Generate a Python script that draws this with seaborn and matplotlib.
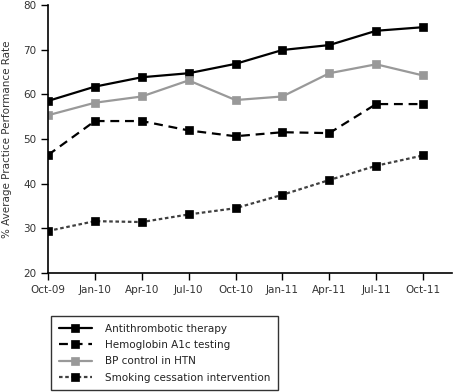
import pandas as pd
import numpy as np
import matplotlib
matplotlib.use("Agg")
import matplotlib.pyplot as plt
import seaborn as sns

# Data
quarters = ["Oct-09", "Jan-10", "Apr-10", "Jul-10", "Oct-10",
            "Jan-11", "Apr-11", "Jul-11", "Oct-11"]
antithrombotic = [58.5, 61.7, 63.8, 64.7, 66.8, 69.9, 71.0, 74.2, 75.0]
hemoglobin = [46.4, 54.0, 54.0, 51.9, 50.6, 51.5, 51.3, 57.8, 57.8]
bp_control = [55.3, 58.1, 59.5, 63.1, 58.7, 59.5, 64.7, 66.7, 64.2]
smoking = [29.4, 31.6, 31.4, 33.1, 34.5, 37.5, 40.8, 44.0, 46.3]

series_names = ["Antithrombotic therapy", "Hemoglobin A1c testing",
                "BP control in HTN", "Smoking cessation intervention"]
series_values = [antithrombotic, hemoglobin, bp_control, smoking]

sns.set_style("white")
plt.rcParams['font.family'] = ['DejaVu Sans']

fig = plt.figure(figsize=(4.53, 3.92), dpi=100)
ax = fig.add_axes([0.106, 0.3036, 0.892, 0.684])

styles = [
    dict(color="black", linestyle="-", mfc="black", mec="black"),
    dict(color="black", linestyle=(0, (4, 2.6)), mfc="black", mec="black"),
    dict(color="#999999", linestyle="-", mfc="#999999", mec="#999999"),
    dict(color="#404040", linestyle=(0, (1.6, 1.2)), mfc="black", mec="black"),
]

x = np.arange(len(quarters))
for name, vals, st in zip(series_names, series_values, styles):
    df = pd.DataFrame({"x": x, "y": vals})
    sns.lineplot(data=df, x="x", y="y", ax=ax, label=name,
                 color=st["color"], linestyle=st["linestyle"], linewidth=1.6,
                 marker="s", markersize=5.8, markerfacecolor=st["mfc"],
                 markeredgecolor=st["mec"], markeredgewidth=0.5)

ax.set_xlim(0, 8.62)
ax.set_ylim(20, 80)
ax.set_xticks(x)
ax.set_xticklabels(quarters)
ax.set_yticks(np.arange(20, 81, 10))
ax.set_xlabel("")
ax.set_ylabel("% Average Practice Performance Rate", fontsize=7.5,
              color="#333333", labelpad=8)
for s in ["top", "right"]:
    ax.spines[s].set_visible(False)
for s in ["left", "bottom"]:
    ax.spines[s].set_color("black")
    ax.spines[s].set_linewidth(1.2)
ax.tick_params(axis="both", direction="out", length=5, width=1, color="black",
               labelsize=7.5, labelcolor="#333333", bottom=True, left=True)

handles, labels = ax.get_legend_handles_labels()
ax.get_legend().remove()
leg = fig.legend(handles, labels, loc="upper left",
                 bbox_to_anchor=(46 / 453, 1 - 311 / 392),
                 fontsize=7.5, frameon=True, fancybox=False,
                 handlelength=3.2, borderpad=0.7, labelspacing=0.62,
                 handletextpad=1.3)
leg.get_frame().set_edgecolor("black")
leg.get_frame().set_linewidth(1)
for t in leg.get_texts():
    t.set_color("#222222")

fig.savefig("out.png", dpi=100)
